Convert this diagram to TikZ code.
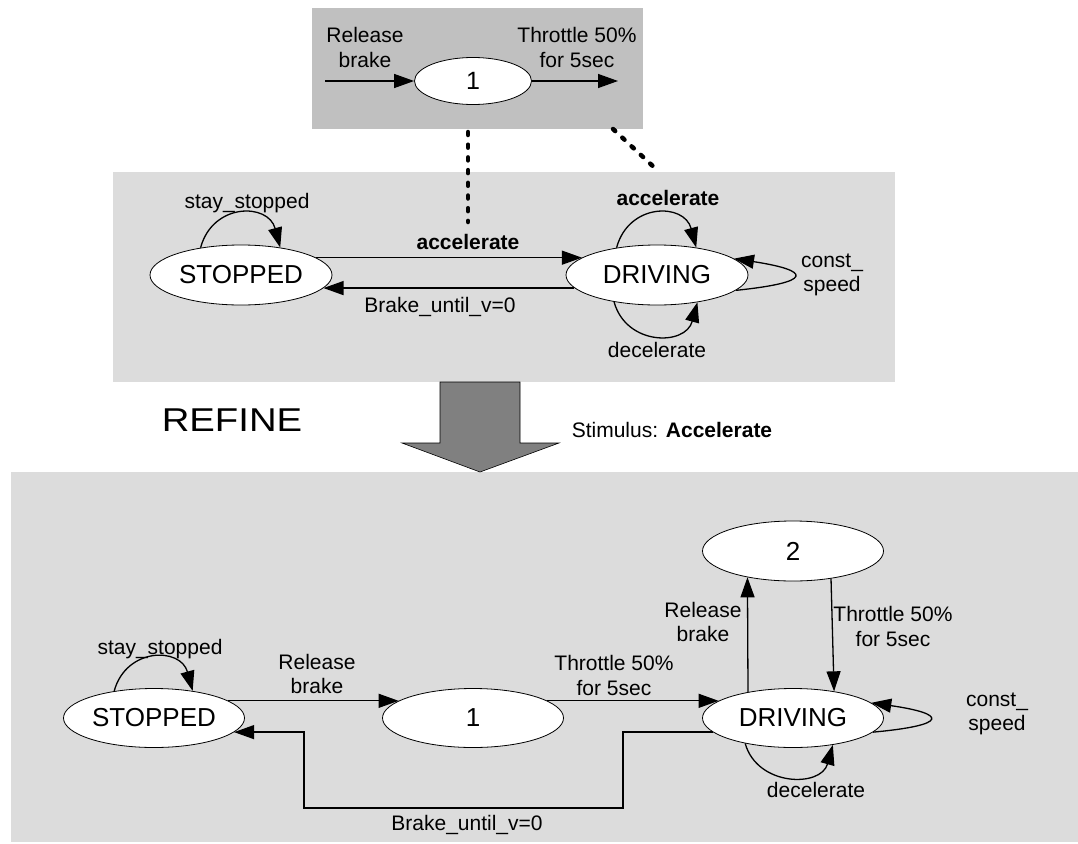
\documentclass[tikz,border=0pt]{standalone}
\usepackage{fontspec}
\setmainfont{Liberation Sans}
\usetikzlibrary{shapes.geometric,arrows.meta}

\definecolor{paneldark}{HTML}{C0C0C0}
\definecolor{panellight}{HTML}{DCDCDC}
\definecolor{refinegray}{HTML}{808080}

\begin{document}
\begin{tikzpicture}[x=1pt,y=-1pt,
  state/.style={ellipse,draw=black,line width=0.8pt,fill=white,
    minimum width=181pt,minimum height=59pt,inner sep=0pt,
    font=\fontsize{26}{30}\selectfont},
  smallstate/.style={state,minimum width=117pt,minimum height=47pt,
    font=\fontsize{25}{30}\selectfont},
  lbl/.style={font=\fontsize{21}{24.5}\selectfont,align=center,inner sep=0pt,
    text height=15.5pt,text depth=0pt},
  lbltwo/.style={font=\fontsize{21}{24.5}\selectfont,align=center,inner sep=0pt},
  arr/.style={line width=1.3pt,-{Triangle[length=20pt,width=14pt]}},
  linkline/.style={line width=4.5pt,dash pattern=on 3pt off 9.7pt,line cap=round}
]
\useasboundingbox (0,0) rectangle (1078,843);

% panels
\fill[paneldark]  (312,8)   rectangle (643,129);
\fill[panellight] (113,172) rectangle (895,382);
\fill[panellight] (11,472)  rectangle (1078,842);

% links between the detail panel and the abstract machine
\coordinate (linkAtop) at (468,132);
\coordinate (linkAbot) at (468,222);
\coordinate (linkBtop) at (613,129);
\coordinate (linkBbot) at (657,170);
\draw[linkline] (linkAtop) -- (linkAbot);
\draw[linkline] (linkBtop) -- (linkBbot);

% refinement arrow
\draw[fill=refinegray,line width=0.6pt] (440,382) -- (520,382) -- (520,443) -- (559,443)
  -- (480,472) -- (402,443) -- (440,443) -- cycle;
\node[inner sep=0pt,font=\fontsize{33}{40}\selectfont] (refine) at (232,420)
  {\scalebox{1.16}[1]{REFINE}};
\node[lbl] (stim) at (672,430) {Stimulus: \textbf{Accelerate}};

% ---- detail of the accelerate transition
\node[smallstate] (t1) at (473,81) {1};
\coordinate (t1in) at (325,81);
\coordinate (t1out) at (618,81);
\draw[arr] (t1in) -- (t1.west);
\draw[arr] (t1.east) -- (t1out);
\node[lbltwo] (t1lblA) at (365,47.5) {Release\\brake};
\node[lbltwo] (t1lblB) at (577,47.5) {Throttle 50\%\\for 5sec};

% ---- abstract machine
\node[state,minimum height=60pt,minimum width=182pt] (mS) at (241,275) {STOPPED};
\node[state,minimum height=60pt,minimum width=182pt] (mD) at (657,275) {DRIVING};
\draw[arr] (mS.13) -- (mD.167);
\draw[arr] (mD.189) -- (mS.351);
\draw[arr] (mS.146) .. controls +(12,-45) and +(-12,-45) .. (mS.35);
\draw[arr] (mD.146) .. controls +(12,-45) and +(-12,-45) .. (mD.35);
\draw[arr] (mD.212) .. controls +(12,44) and +(-12,44) .. (mD.326);
\draw[arr] (mD.349) .. controls +(78,-8) and +(78,12) .. (mD.12);
\node[lbl] (mlA) at (247,201) {stay\_stopped};
\node[lbl] (mlB) at (468,242) {\textbf{accelerate}};
\node[lbl] (mlC) at (440,305) {Brake\_until\_v=0};
\node[lbl] (mlD) at (668,198) {\textbf{accelerate}};
\node[lbl] (mlE) at (657,350) {decelerate};
\node[lbltwo] (mlF) at (832,275) {const\_\\speed};

% ---- refined machine
\node[state] (S)   at (154,718) {STOPPED};
\node[state] (one) at (473,718) {1};
\node[state] (D)   at (793,718) {DRIVING};
\node[state,minimum height=60pt] (two) at (793,551) {2};
\draw[arr] (S.13) -- (one.167);
\draw[arr] (one.13) -- (D.167);
\draw[arr] (D.150) -- (two.210);
\draw[arr] (two.324) -- (D.33);
\draw[arr] (S.146) .. controls +(12,-44) and +(-12,-44) .. (S.35);
\draw[arr] (D.208) .. controls +(12,43) and +(-12,43) .. (D.326);
\draw[arr] (D.350) .. controls +(76,-7) and +(76,11) .. (D.11);
\coordinate (bendA) at (623,808);
\coordinate (bendB) at (304,808);
\draw[arr] (D.190) -| (bendA) -- (bendB) |- (S.350);
\node[lbl] (blA) at (160,647) {stay\_stopped};
\node[lbltwo] (blB) at (317,674) {Release\\brake};
\node[lbltwo] (blC) at (614,675.5) {Throttle 50\%\\for 5sec};
\node[lbltwo] (blD) at (703,622) {Release\\brake};
\node[lbltwo] (blE) at (893,626.5) {Throttle 50\%\\for 5sec};
\node[lbltwo] (blF) at (997,714) {const\_\\speed};
\node[lbl] (blG) at (816,790) {decelerate};
\node[lbl] (blH) at (467,823) {Brake\_until\_v=0};
\end{tikzpicture}
\end{document}
